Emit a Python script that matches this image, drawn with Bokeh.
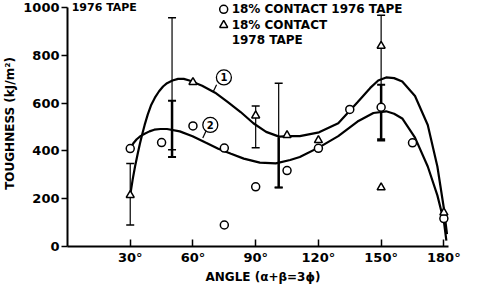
from bokeh.plotting import figure
from bokeh.models import Range1d, FixedTicker
from bokeh.core.properties import value
from bokeh.embed import file_html
from bokeh.resources import INLINE

FONT = "DejaVu Sans"
WEIGHT = "bold"

# 18% contact, 1976 tape (circles)
c76_angle = [30, 45, 60, 75, 75, 90, 105, 120, 135, 150, 165, 180]
c76_tough = [410, 435, 505, 412, 90, 250, 318, 411, 574, 583, 434, 117]

# 18% contact, 1978 tape (triangles)
t78_angle = [30, 60, 90, 105, 120, 150, 150, 180]
t78_tough = [215, 688, 548, 466, 445, 840, 247, 142]

# error bars (thin)
eb_thin_angle = [30, 50, 90, 101, 150]
eb_thin_low = [90, 405, 413, 247, 443]
eb_thin_high = [348, 958, 588, 684, 968]
# error bars (thick)
eb_thick_angle = [50, 101, 150]
eb_thick_low = [375, 247, 449]
eb_thick_high = [610, 456, 677]
eb_thick_caplo = [True, True, True]
eb_thick_caphi = [True, False, True]

# curve 1
curve1_angle = [30.0, 31.2, 32.3, 33.5, 34.6, 35.8, 36.9, 38.4, 39.9, 41.8, 43.8, 45.7,
                47.6, 50.2, 52.9, 55.6, 58.3, 64.4, 70.6, 76.7,
                82.8, 88.9, 95.0, 101.2, 106.5, 111.1, 120.3, 129.5, 138.7, 144.8,
                148.6, 152.4, 156.2, 160.1, 166.2, 172.3, 176.9, 180.0, 181.5]
curve1_tough = [215, 282, 335, 385, 429, 472, 509, 553, 590, 623, 650, 670,
                684, 695, 702, 702, 695, 673, 644, 604,
                563, 516, 480, 460, 462, 462, 478, 516, 604, 664,
                695, 708, 705, 691, 630, 509, 335, 160, 52]

# curve 2
curve2_angle = [30.0, 31.5, 33.1, 34.9, 36.9, 39.2, 41.5, 44.5, 47.6, 53.7, 59.8, 66.0, 72.1, 78.2, 84.3, 92.0,
                99.6, 106.5, 111.1, 120.3, 129.5, 138.7, 146.3, 152.4, 156.2, 160.1, 166.2,
                172.3, 176.9, 180.0, 181.2]
curve2_tough = [410, 432, 449, 462, 472, 482, 489, 492, 492, 482, 462, 435, 409, 388, 368, 351,
                348, 362, 375, 415, 462, 523, 559, 566, 556, 536, 456,
                335, 214, 106, 25]

x_ticks = [30, 60, 90, 120, 150, 180]
x_tick_labels = ["30°", "60°", "90°", "120°", "150°", "180°"]
y_ticks = [0, 200, 400, 600, 800, 1000]

p = figure(width=462, height=286, output_backend="svg", toolbar_location=None,
           x_range=Range1d(0, 187), y_range=Range1d(0, 1030),
           min_border_left=62, min_border_right=4, min_border_top=0, min_border_bottom=36)
p.outline_line_color = None
p.xgrid.visible = False
p.ygrid.visible = False
p.background_fill_color = "white"

# axes
p.xaxis.ticker = FixedTicker(ticks=x_ticks)
p.xaxis.major_label_overrides = {t: l for t, l in zip(x_ticks, x_tick_labels)}
p.xaxis.bounds = (0, 182)
p.xaxis.major_tick_in = 7
p.xaxis.major_tick_out = 0
p.xaxis.minor_tick_line_color = None
p.xaxis.axis_line_width = 2
p.xaxis.major_tick_line_width = 1.5
p.xaxis.major_label_standoff = 3
p.xaxis.axis_label = "ANGLE (α+β=3ϕ)"
p.xaxis.axis_label_standoff = 2

p.yaxis.ticker = FixedTicker(ticks=y_ticks)
p.yaxis.bounds = (0, 1000)
p.yaxis.major_tick_in = 0
p.yaxis.major_tick_out = 6
p.yaxis.minor_tick_line_color = None
p.yaxis.axis_line_width = 2
p.yaxis.major_tick_line_width = 1.5
p.yaxis.major_label_standoff = 2
p.yaxis.axis_label = "TOUGHNESS (kJ/m²)"
p.yaxis.axis_label_standoff = 3

for ax in (p.xaxis, p.yaxis):
    ax.major_label_text_font = FONT
    ax.major_label_text_font_size = "13px"
    ax.major_label_text_font_style = WEIGHT
    ax.major_label_text_color = "black"
    ax.axis_label_text_font = FONT
    ax.axis_label_text_font_size = "12px"
    ax.axis_label_text_font_style = WEIGHT
    ax.axis_label_text_color = "black"
    ax.axis_line_color = "black"
    ax.major_tick_line_color = "black"

# curves
p.line(curve1_angle, curve1_tough, line_color="black", line_width=2.2)
p.line(curve2_angle, curve2_tough, line_color="black", line_width=2.2)

# error bars
p.segment(eb_thin_angle, eb_thin_low, eb_thin_angle, eb_thin_high, line_color="black", line_width=1.2)
p.scatter(eb_thin_angle + eb_thin_angle, eb_thin_low + eb_thin_high, marker="dash",
          size=8, line_color="black", line_width=1.5)
p.segment(eb_thick_angle, eb_thick_low, eb_thick_angle, eb_thick_high, line_color="black", line_width=2.5)
cap_x = [a for a, c in zip(eb_thick_angle, eb_thick_caplo) if c] + \
        [a for a, c in zip(eb_thick_angle, eb_thick_caphi) if c]
cap_y = [v for v, c in zip(eb_thick_low, eb_thick_caplo) if c] + \
        [v for v, c in zip(eb_thick_high, eb_thick_caphi) if c]
p.scatter(cap_x, cap_y, marker="dash", size=8, line_color="black", line_width=2)

# points
p.scatter(c76_angle, c76_tough, marker="circle", size=8, fill_color="white",
          line_color="black", line_width=1.5)
p.scatter(t78_angle, t78_tough, marker="triangle", size=8, fill_color="white",
          line_color="black", line_width=1.5)

# curve labels
lab_x = [74.8, 68.3]
lab_y = [708, 509]
lab_t = ["1", "2"]
p.segment([71.3, 66.3], [677, 485], [69.8, 64.7], [650, 454], line_color="black", line_width=1.2)
p.scatter(lab_x, lab_y, marker="circle", size=15, fill_color="white", line_color="black", line_width=1.3)
p.text(lab_x, lab_y, text=lab_t, text_align="center", text_baseline="middle",
       text_font=value(FONT), text_font_size="10px", text_font_style=WEIGHT, text_color="black")

# legend
leg_marker_x = 74.7
leg_text_x = 78.5
p.scatter([leg_marker_x], [993], marker="circle", size=8, fill_color="white", line_color="black", line_width=1.5)
p.scatter([leg_marker_x], [927], marker="triangle", size=8, fill_color="white", line_color="black", line_width=1.5)
p.text([leg_text_x] * 3, [993, 927, 865],
       text=["18% CONTACT  1976 TAPE", "18% CONTACT", "1978 TAPE"],
       text_align="left", text_baseline="middle",
       text_font=value(FONT), text_font_size="12px", text_font_style=WEIGHT, text_color="black")

# heading at the very top left
p.text([2.0], [1030], text=["1976 TAPE"], text_align="left", text_baseline="top",
       text_font=value(FONT), text_font_size="11px", text_font_style=WEIGHT, text_color="black")

open("out.html", "w").write(file_html(p, INLINE))
